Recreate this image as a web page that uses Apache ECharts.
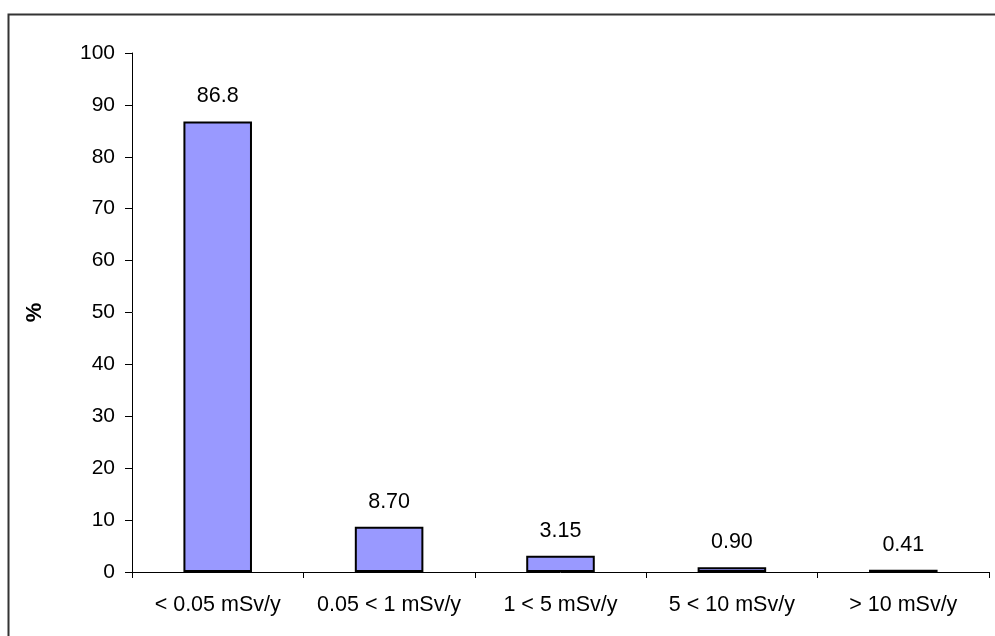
<!DOCTYPE html>
<html><head><meta charset="utf-8">
<script src="https://cdn.jsdelivr.net/npm/echarts@6/dist/echarts.min.js"></script>
<style>html,body{margin:0;padding:0;background:#fff}#c{width:995px;height:636px}</style>
</head><body><div id="c"></div>
<script>
const categories = ['< 0.05 mSv/y', '0.05 < 1 mSv/y', '1 < 5 mSv/y', '5 < 10 mSv/y', '> 10 mSv/y'];
const values = [86.8, 8.70, 3.15, 0.90, 0.41];
const valueLabels = ['86.8', '8.70', '3.15', '0.90', '0.41'];
const yTicks = [0, 10, 20, 30, 40, 50, 60, 70, 80, 90, 100];

const chart = echarts.init(document.getElementById('c'), null, {renderer: 'canvas'});
const font = 'Liberation Sans, Arial, sans-serif';
chart.setOption({
  animation: false,
  backgroundColor: '#fff',
  grid: {left: 132, right: 6, top: 53, bottom: 64},
  graphic: [{
    type: 'polyline',
    shape: {points: [[8.5, 640], [8.5, 14.5], [1000, 14.5]]},
    style: {stroke: '#333', lineWidth: 2, fill: null}
  }],
  xAxis: {
    type: 'category',
    data: categories,
    axisLine: {lineStyle: {color: '#000', width: 1}},
    axisTick: {show: true, length: 6, interval: 0, lineStyle: {color: '#000'}},
    axisLabel: {color: '#000', fontSize: 21.5, fontFamily: font, margin: 22, interval: 0, hideOverlap: false}
  },
  yAxis: {
    type: 'value',
    min: 0, max: 100, interval: 10,
    name: '%',
    nameLocation: 'middle',
    nameGap: 86,
    nameRotate: 90,
    nameTextStyle: {color: '#000', fontSize: 22, fontWeight: 'bold', fontFamily: font},
    axisLine: {show: true, lineStyle: {color: '#000', width: 1}},
    axisTick: {show: true, length: 7, lineStyle: {color: '#000'}},
    axisLabel: {color: '#000', fontSize: 21, fontFamily: font, margin: 17,
      formatter: v => yTicks.includes(v) ? String(v) : ''},
    splitLine: {show: false}
  },
  series: [{
    type: 'bar',
    data: values,
    barWidth: '40%',
    itemStyle: {color: '#9999FF', borderColor: '#000', borderWidth: 2},
    label: {
      show: true, position: 'top', distance: 14,
      color: '#000', fontSize: 21.5, fontFamily: font,
      formatter: p => valueLabels[p.dataIndex]
    }
  }]
});
</script></body></html>
